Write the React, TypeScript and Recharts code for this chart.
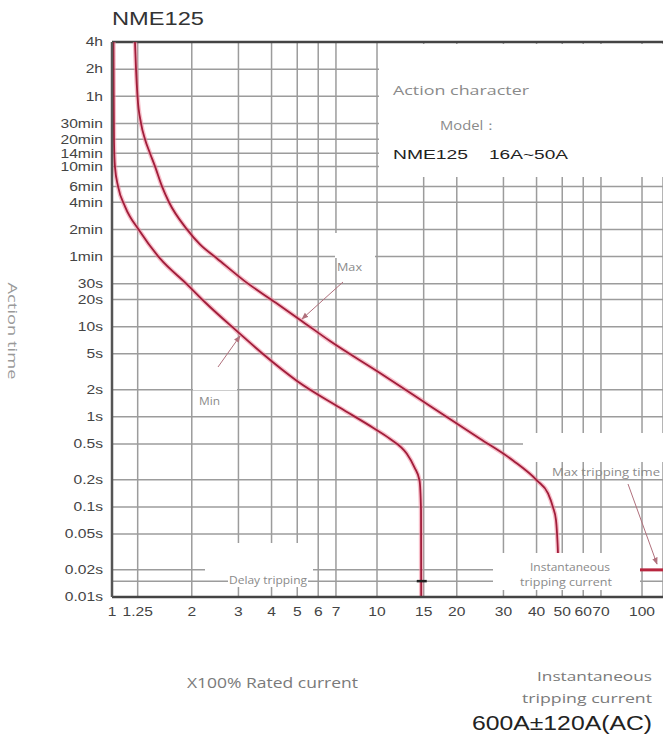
import React from "react";
import { LineChart, Line, XAxis, YAxis, CartesianGrid, ReferenceLine, ReferenceDot } from "recharts";

// x: multiples of rated current, y: tripping time in seconds
const xTicks = [1, 1.25, 2, 3, 4, 5, 6, 7, 10, 15, 20, 30, 40, 50, 60, 70, 100];
const xLabels = ["1", "1.25", "2", "3", "4", "5", "6", "7", "10", "15", "20", "30", "40", "50", "60", "70", "100"];
const yTicks = [0.01, 0.015, 0.02, 0.05, 0.1, 0.2, 0.5, 1, 2, 5, 10, 20, 30, 60, 120, 240, 360, 600, 840, 1200, 1800, 3600, 7200, 14400];
const yLabels = ["0.01s", "", "0.02s", "0.05s", "0.1s", "0.2s", "0.5s", "1s", "2s", "5s", "10s", "20s", "30s", "1min", "2min", "4min", "6min", "10min", "14min", "20min", "30min", "1h", "2h", "4h"];

const minCurrent = [1.013, 1.015, 1.0175, 1.026, 1.054, 1.12, 1.275, 1.517, 1.919, 2.244, 2.962, 3.713, 4.99, 7.254, 9.655, 11.18, 12.94, 13.86, 14.47, 14.66, 14.68];
const minTime = [14400, 3600, 1121, 593, 360, 215, 113.6, 57.1, 29.5, 18.65, 8.9, 4.97, 2.5, 1.257, 0.756, 0.571, 0.39, 0.273, 0.196, 0.0914, 0.01];

const maxCurrent = [1.221, 1.232, 1.248, 1.287, 1.332, 1.391, 1.453, 1.544, 1.641, 1.919, 2.148, 2.49, 3.176, 4.122, 5.212, 6.647, 10.26, 15.85, 24.47, 32.6, 40.17, 44.19, 46.15, 47.37, 47.78, 48.19, 48.4];
const maxTime = [14400, 7200, 3600, 1800, 1200, 840, 600, 360, 240, 120, 81.6, 57.1, 31.8, 18.65, 11.5, 6.92, 3.06, 1.32, 0.571, 0.327, 0.196, 0.141, 0.0987, 0.071, 0.051, 0.0306, 0.02];

const instCurrent = [98, 120];
const instTime = [0.02, 0.02];

const minData = minCurrent.map((i, k) => ({ i, t: minTime[k] }));
const maxData = maxCurrent.map((i, k) => ({ i, t: maxTime[k] }));
const instData = instCurrent.map((i, k) => ({ i, t: instTime[k] }));

const ARIAL = "'Liberation Sans', Arial, sans-serif";
const SOFT = "'Open Sans', 'Noto Sans', sans-serif";
const GRAY = "#8a8a8a";

function YTick(props: any) {
  const { x, y, payload } = props;
  const label = yLabels[yTicks.indexOf(payload.value)];
  if (!label) return <g />;
  return (
    <g transform={`translate(${x},${y})`}>
      <text transform="scale(1.3,1)" textAnchor="end" dominantBaseline="central" fontSize={12} fill="#444" fontFamily={ARIAL}>
        {label}
      </text>
    </g>
  );
}

function XTick(props: any) {
  const { x, y, payload } = props;
  const label = xLabels[xTicks.indexOf(payload.value)];
  return (
    <g transform={`translate(${x},${y})`}>
      <text transform="scale(1.3,1)" textAnchor="middle" dominantBaseline="central" fontSize={12} fill="#444" fontFamily={ARIAL}>
        {label}
      </text>
    </g>
  );
}

function Cross(props: any) {
  const { cx, cy } = props;
  return <line x1={cx - 5} x2={cx + 5} y1={cy} y2={cy} stroke="#222" strokeWidth={2.5} />;
}

function Overlay() {
  return (
    <svg width={663} height={741} style={{ position: "absolute", left: 0, top: 0, pointerEvents: "none" }}>
      <defs>
        <marker id="arr" viewBox="0 0 10 10" refX="9" refY="5" markerWidth="7" markerHeight="7" orient="auto">
          <path d="M0,1 L10,5 L0,9 z" fill="#b0707c" />
        </marker>
      </defs>

      {/* title */}
      <text x={112} y={18} dominantBaseline="central" fontSize={19} fill="#333" fontFamily={ARIAL} textLength={92} lengthAdjust="spacingAndGlyphs">NME125</text>

      {/* legend box */}
      <rect x={379} y={44} width={284} height={133} fill="#fff" />
      <text x={393} y={90} dominantBaseline="central" fontSize={13} fill={GRAY} fontFamily={SOFT} textLength={136} lengthAdjust="spacingAndGlyphs">Action character</text>
      <text x={440} y={125} dominantBaseline="central" fontSize={13} fill={GRAY} fontFamily={SOFT} textLength={58} lengthAdjust="spacingAndGlyphs">Model：</text>
      <text x={393} y={154} dominantBaseline="central" fontSize={13} fill="#222" fontFamily={ARIAL} textLength={75} lengthAdjust="spacingAndGlyphs">NME125</text>
      <text x={489} y={154} dominantBaseline="central" fontSize={13} fill="#222" fontFamily={ARIAL} textLength={79} lengthAdjust="spacingAndGlyphs">16A~50A</text>

      {/* Max label */}
      <rect x={335} y={233} width={40} height={25} fill="#fff" />
      <text x={337} y={267} dominantBaseline="central" fontSize={10} fill={GRAY} fontFamily={SOFT} textLength={25} lengthAdjust="spacingAndGlyphs">Max</text>
      <line x1={343} y1={282} x2={302} y2={319} stroke="#b0707c" strokeWidth={1} markerEnd="url(#arr)" />

      {/* Min label */}
      <rect x={193} y={367} width={44} height={23} fill="#fff" />
      <text x={199} y={401} dominantBaseline="central" fontSize={10} fill={GRAY} fontFamily={SOFT} textLength={21} lengthAdjust="spacingAndGlyphs">Min</text>
      <line x1={218} y1={367} x2={240} y2={336} stroke="#b0707c" strokeWidth={1} markerEnd="url(#arr)" />

      {/* Max tripping time */}
      <rect x={523} y={433} width={140} height={29} fill="#fff" />
      <text x={552} y={472} dominantBaseline="central" fontSize={10} fill={GRAY} fontFamily={SOFT} textLength={108} lengthAdjust="spacingAndGlyphs">Max tripping time</text>
      <line x1={628} y1={484} x2={657} y2={564} stroke="#b0707c" strokeWidth={1} markerEnd="url(#arr)" />

      {/* Delay tripping */}
      <rect x={205} y={543} width={108} height={31} fill="#fff" />
      <rect x={228} y={574} width={80} height={13} fill="#fff" />
      <text x={229} y={580} dominantBaseline="central" fontSize={10} fill={GRAY} fontFamily={SOFT} textLength={78} lengthAdjust="spacingAndGlyphs">Delay tripping</text>

      {/* instantaneous box */}
      <rect x={493} y={553} width={147} height={37} fill="#fff" />
      <text x={570} y={567} textAnchor="middle" dominantBaseline="central" fontSize={10.5} fill={GRAY} fontFamily={SOFT} textLength={80} lengthAdjust="spacingAndGlyphs">Instantaneous</text>
      <text x={566} y={582} textAnchor="middle" dominantBaseline="central" fontSize={10.5} fill={GRAY} fontFamily={SOFT} textLength={92} lengthAdjust="spacingAndGlyphs">tripping current</text>

      {/* axis titles */}
      <text transform="translate(13,331) rotate(90)" textAnchor="middle" dominantBaseline="central" fontSize={13} fill="#999" fontFamily={SOFT} textLength={97} lengthAdjust="spacingAndGlyphs">Action time</text>
      <text x={187} y={682} dominantBaseline="central" fontSize={14} fill="#7a7a7a" fontFamily={SOFT} textLength={171} lengthAdjust="spacingAndGlyphs">X100% Rated current</text>

      {/* bottom right note */}
      <text x={652} y={676} textAnchor="end" dominantBaseline="central" fontSize={13} fill="#7a7a7a" fontFamily={SOFT} textLength={115} lengthAdjust="spacingAndGlyphs">Instantaneous</text>
      <text x={652} y={698} textAnchor="end" dominantBaseline="central" fontSize={13} fill="#7a7a7a" fontFamily={SOFT} textLength={130} lengthAdjust="spacingAndGlyphs">tripping current</text>
      <text x={652} y={723} textAnchor="end" dominantBaseline="central" fontSize={19.5} fill="#222" fontFamily={ARIAL} textLength={180} lengthAdjust="spacingAndGlyphs">600A±120A(AC)</text>
    </svg>
  );
}

export default function App() {
  return (
    <div style={{ position: "absolute", left: 0, top: 0, width: 663, height: 741, overflow: "hidden", background: "#fff" }}>
      <LineChart width={663} height={741} margin={{ top: 42, right: 0, bottom: 114, left: 0 }}>
        <CartesianGrid stroke="#9c9c9c" strokeWidth={1.5} />
        <XAxis
          type="number"
          dataKey="i"
          scale="log"
          domain={[1, 120]}
          ticks={xTicks}
          interval={0}
          allowDataOverflow
          height={30}
          tickSize={0}
          tickMargin={15}
          tick={<XTick />}
          axisLine={{ stroke: "#444", strokeWidth: 2.5 }}
        />
        <YAxis
          type="number"
          dataKey="t"
          scale="log"
          domain={[0.01, 14400]}
          ticks={yTicks}
          interval={0}
          allowDataOverflow
          width={112}
          tickSize={0}
          tickMargin={9}
          tick={<YTick />}
          axisLine={{ stroke: "#555", strokeWidth: 2.5 }}
        />
        <ReferenceLine y={14400} stroke="#444" strokeWidth={2.5} ifOverflow="visible" />
        <Line data={minData} dataKey="t" type="monotone" stroke="#f08a9e" strokeOpacity={0.55} strokeWidth={4.5} dot={false} activeDot={false} isAnimationActive={false} />
        <Line data={maxData} dataKey="t" type="monotone" stroke="#f08a9e" strokeOpacity={0.55} strokeWidth={4.5} dot={false} activeDot={false} isAnimationActive={false} />
        <Line data={minData} dataKey="t" type="monotone" stroke="#a11d3a" strokeWidth={1.8} dot={false} activeDot={false} isAnimationActive={false} />
        <Line data={maxData} dataKey="t" type="monotone" stroke="#a11d3a" strokeWidth={1.8} dot={false} activeDot={false} isAnimationActive={false} />
        <Line data={instData} dataKey="t" type="linear" stroke="#b8263f" strokeWidth={3} dot={false} activeDot={false} isAnimationActive={false} />
        <ReferenceDot x={14.75} y={0.015} r={4} shape={<Cross />} ifOverflow="visible" />
      </LineChart>
      <Overlay />
    </div>
  );
}
